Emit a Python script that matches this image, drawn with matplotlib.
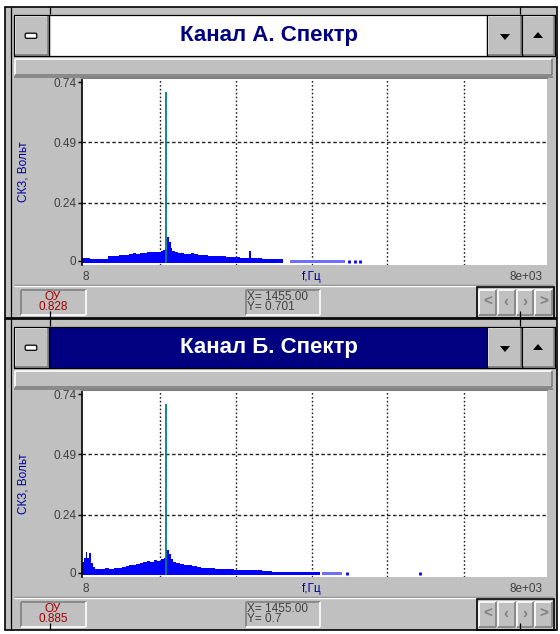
import matplotlib
matplotlib.use("Agg")
import matplotlib.pyplot as plt
from matplotlib.patches import Rectangle, Polygon, FancyBboxPatch

plt.rcParams['font.family'] = ['Liberation Sans', 'DejaVu Sans']

# ---------------- data ----------------
x_min, x_max = 8, 8000
y_ticks = [0, 0.24, 0.49, 0.74]
y_tick_labels = ['0', '0.24', '0.49', '0.74']
grid_x = [1350, 2655, 3960, 5250, 6575]
grid_y = [0.24, 0.49]
x_left_label = '8'
x_right_label = '8e+03'
x_axis_label = 'f,Гц'
y_axis_label = 'СКЗ, Вольт'

titles = ['Канал А. Спектр', 'Канал Б. Спектр']
ou_values = ['0.828', '0.885']
cursor_x_text = ['X= 1455.00', 'X= 1455.00']
cursor_y_text = ['Y= 0.701', 'Y= 0.7']
peak_freq = 1455
peak_amp = [0.701, 0.70]

freq_a = [8, 70, 140, 200, 300, 400, 455, 520, 580, 640, 700, 760, 820, 880, 940,
          1000, 1060, 1120, 1180, 1240, 1300, 1360, 1400, 1440, 1470, 1500, 1530,
          1560, 1600, 1650, 1700, 1760, 1820, 1880, 1940, 2000, 2060, 2120, 2180,
          2240, 2300, 2360, 2420, 2480, 2540, 2600, 2660, 2720, 2780, 2840, 2880,
          2920, 2960, 3020, 3100, 3200, 3300, 3400, 3460]
amp_a = [0.013, 0.010, 0.006, 0.005, 0.005, 0.006, 0.019, 0.021, 0.020, 0.023, 0.025,
         0.024, 0.028, 0.030, 0.029, 0.032, 0.033, 0.036, 0.034, 0.037, 0.036, 0.041,
         0.044, 0.048, 0.096, 0.078, 0.052, 0.040, 0.035, 0.031, 0.033, 0.029, 0.028,
         0.030, 0.026, 0.024, 0.022, 0.023, 0.020, 0.021, 0.019, 0.018, 0.020, 0.017,
         0.016, 0.015, 0.014, 0.013, 0.013, 0.012, 0.042, 0.012, 0.010, 0.009, 0.008,
         0.008, 0.007, 0.006, 0.0]
tail_a = [3583, 4530]
tail_amp_a = [0.003, 0.003]
dots_a = [4590, 4700, 4790]
dots_amp_a = [0.003, 0.003, 0.003]

freq_b = [8, 40, 70, 100, 130, 165, 190, 240, 320, 400, 480, 560, 640, 700, 760, 820,
          880, 940, 1000, 1060, 1120, 1180, 1240, 1300, 1360, 1420, 1460, 1500, 1530,
          1570, 1620, 1690, 1760, 1830, 1900, 1980, 2060, 2140, 2220, 2300, 2380,
          2460, 2540, 2620, 2700, 2780, 2860, 2940, 3020, 3100, 3200, 3280, 3400,
          3550, 3700, 3850, 4000, 4100]
amp_b = [0.045, 0.060, 0.085, 0.060, 0.080, 0.040, 0.022, 0.017, 0.016, 0.018, 0.017,
         0.019, 0.021, 0.024, 0.027, 0.030, 0.033, 0.036, 0.040, 0.043, 0.048, 0.046,
         0.052, 0.050, 0.058, 0.062, 0.092, 0.078, 0.055, 0.046, 0.042, 0.036, 0.032,
         0.030, 0.027, 0.025, 0.021, 0.019, 0.018, 0.017, 0.016, 0.015, 0.014, 0.012,
         0.011, 0.010, 0.010, 0.009, 0.009, 0.008, 0.006, 0.004, 0.004, 0.004, 0.004,
         0.004, 0.003, 0.0]
tail_b = [4133, 4477]
tail_amp_b = [0.003, 0.003]
dots_b = [4563, 5818]
dots_amp_b = [0.003, 0.003]

spectra = [(freq_a, amp_a, tail_a, tail_amp_a, dots_a, dots_amp_a),
           (freq_b, amp_b, tail_b, tail_amp_b, dots_b, dots_amp_b)]

# ---------------- style ----------------
W, H = 560, 634
GRAY = '#C0C0C0'
DARK = '#808080'
NAVY = '#000080'
BLUE = '#0000FF'
TEAL = '#008080'
LABEL_BLUE = '#0000A0'
RED = '#A00000'
TXT = '#404040'
PANEL_OFFSET = 312
BASE = -0.008

fig = plt.figure(figsize=(W / 100, H / 100), dpi=100)
bg = fig.add_axes([0, 0, 1, 1])
bg.set_xlim(0, W)
bg.set_ylim(H, 0)
bg.axis('off')


def rect(x0, y0, x1, y1, fc, ec='none', lw=1.0, z=1):
    bg.add_patch(Rectangle((x0, y0), x1 - x0, y1 - y0, facecolor=fc,
                           edgecolor=ec, lw=lw, zorder=z))


def line(xs, ys, c='black', lw=1.0, z=3):
    bg.plot(xs, ys, color=c, lw=lw, zorder=z, solid_capstyle='butt')


def bevel(x0, y0, x1, y1, raised=True, fc=GRAY, z=2, outline=True):
    rect(x0, y0, x1, y1, fc, z=z)
    tl, br = ('white', DARK) if raised else (DARK, 'white')
    line([x0 + 1, x1 - 1], [y0 + 1, y0 + 1], tl, 1.2, z + 0.1)
    line([x0 + 1, x0 + 1], [y0 + 1, y1 - 1], tl, 1.2, z + 0.1)
    line([x0 + 1, x1 - 1], [y1 - 1, y1 - 1], br, 1.2, z + 0.1)
    line([x1 - 1, x1 - 1], [y0 + 1, y1 - 1], br, 1.2, z + 0.1)
    if outline:
        rect(x0, y0, x1, y1, 'none', 'black', 0.9, z + 0.2)


def pix_axes(x0, y0, x1, y1):
    return fig.add_axes([x0 / W, 1 - y1 / H, (x1 - x0) / W, (y1 - y0) / H])


for i in range(2):
    oy = i * PANEL_OFFSET
    dark_title = (i == 1)

    # window frame
    rect(5, 7 + oy, 557, 318 + oy, GRAY, 'black', 1.2, z=1)
    line([10.5, 10.5], [7 + oy, 318 + oy], 'black', 0.9)
    for xm in (50, 520):
        line([xm, xm], [7 + oy, 14 + oy], 'black', 0.9)
        line([xm, xm], [311 + oy, 318 + oy], 'black', 0.9)

    # title bar
    bevel(14, 15 + oy, 49, 56 + oy)
    bg.add_patch(FancyBboxPatch((26, 34 + oy), 10, 3.5,
                                boxstyle='round,pad=0.8,rounding_size=1.5',
                                facecolor='white', edgecolor='black', lw=0.9, zorder=4))
    rect(49, 15 + oy, 487, 56 + oy, NAVY if dark_title else 'white', 'black', 0.9, z=2)
    bevel(487, 15 + oy, 522, 56 + oy)
    bevel(522, 15 + oy, 555, 56 + oy)
    bg.add_patch(Polygon([[500, 34 + oy], [510, 34 + oy], [505, 40 + oy]],
                         closed=True, facecolor='black', edgecolor='none', zorder=4))
    bg.add_patch(Polygon([[533, 38 + oy], [543, 38 + oy], [538, 32 + oy]],
                         closed=True, facecolor='black', edgecolor='none', zorder=4))
    bg.text(269, 36 + oy, titles[i], ha='center', va='center', fontsize=16,
            fontweight='bold', color='white' if dark_title else NAVY, zorder=5)

    # strip below title
    bevel(14, 58 + oy, 553, 76 + oy, outline=False)
    line([14, 553], [76.5 + oy, 76.5 + oy], DARK, 1.2)

    # y label
    bg.text(23, 172 + oy, y_axis_label, rotation=90, ha='center', va='center',
            fontsize=8.5, color=LABEL_BLUE, zorder=5)

    # x labels
    bg.text(86, 277 + oy, x_left_label, ha='center', va='center', fontsize=8.5,
            color=TXT, zorder=5)
    bg.text(312, 277 + oy, x_axis_label, ha='center', va='center', fontsize=8.5,
            color=LABEL_BLUE, zorder=5)
    bg.text(542, 277 + oy, x_right_label, ha='right', va='center', fontsize=8.5,
            color=TXT, zorder=5)

    # status separator
    line([14, 553], [285 + oy, 285 + oy], DARK, 1.0)
    line([14, 553], [286 + oy, 286 + oy], 'white', 1.0)

    # status boxes
    bevel(20, 289 + oy, 87, 316 + oy, raised=False, outline=False)
    bg.text(53, 297 + oy, 'ОУ', ha='center', va='center', fontsize=8.5, color=RED, zorder=5)
    bg.text(53, 307.5 + oy, ou_values[i], ha='center', va='center', fontsize=8.5,
            color=RED, zorder=5)
    bevel(245, 289 + oy, 321, 316 + oy, raised=False, outline=False)
    bg.text(247, 296.5 + oy, cursor_x_text[i], ha='left', va='center', fontsize=8.5,
            color=TXT, zorder=5)
    bg.text(247, 307 + oy, cursor_y_text[i], ha='left', va='center', fontsize=8.5,
            color=TXT, zorder=5)

    # nav buttons
    rect(477, 287 + oy, 554, 318 + oy, 'none', 'black', 1.2, z=4)
    glyphs = ['<', '‹', '›', '>']
    bw = (553 - 478) / 4
    for k, g in enumerate(glyphs):
        bx0 = 478 + k * bw
        bevel(bx0, 289 + oy, bx0 + bw, 316 + oy, outline=False)
        bg.text(bx0 + bw / 2, 302 + oy, g, ha='center', va='center', fontsize=11,
                fontweight='bold', color=DARK, zorder=5)

    # data axes
    freq, amp, tail, tail_amp, dots, dots_amp = spectra[i]
    ax = pix_axes(82, 78 + oy, 547, 265 + oy)
    ax.set_facecolor('white')
    ax.set_xlim(x_min, x_max)
    ax.set_ylim(-0.018, 0.757)
    for s in ('right', 'bottom'):
        ax.spines[s].set_visible(False)
    ax.spines['top'].set_color(DARK)
    ax.spines['top'].set_linewidth(1.5)
    ax.spines['left'].set_color('black')
    ax.spines['left'].set_linewidth(1.2)
    ax.set_xticks([])
    ax.set_yticks(y_ticks)
    ax.set_yticklabels(y_tick_labels)
    ax.tick_params(axis='y', length=3, width=1, pad=1, labelsize=8.5, labelcolor=TXT)

    for gy in grid_y:
        ax.axhline(gy, color='#202020', lw=1.0, ls=(0, (2.5, 1.8)), zorder=1)
    for gx in grid_x:
        ax.axvline(gx, color='#202020', lw=1.0, ls=(0, (1.2, 1.6)), zorder=1)

    ax.fill_between(freq, amp, BASE, step='post', color=BLUE, lw=0, zorder=2)
    ax.fill_between(tail, tail_amp, BASE, color='#6E6EFF', lw=0, zorder=2)
    ax.vlines(dots, BASE, dots_amp, color=BLUE, lw=2, zorder=2)
    ax.vlines([peak_freq], BASE, peak_amp[i], color=TEAL, lw=1.3, zorder=3)

fig.savefig('out.png', dpi=100)
